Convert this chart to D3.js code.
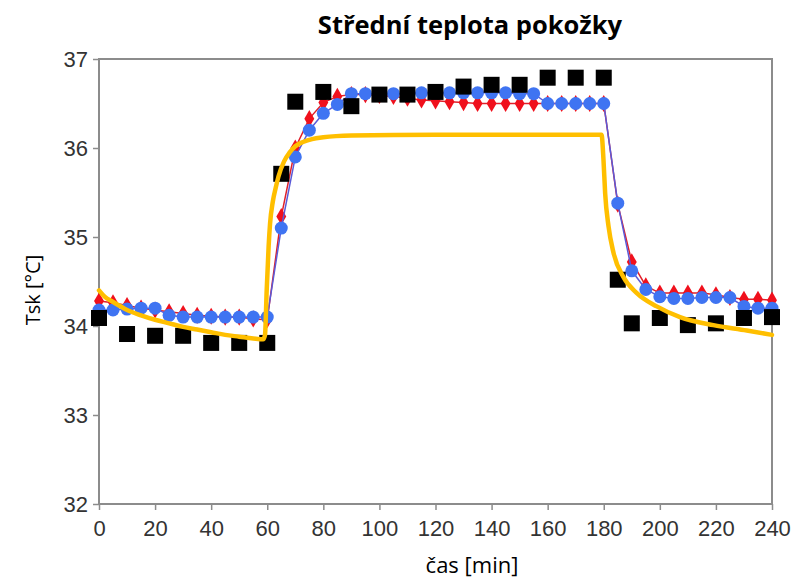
<!DOCTYPE html>
<html>
<head>
<meta charset="utf-8">
<script src="https://cdn.jsdelivr.net/npm/d3@7"></script>
<style>
  html, body { margin: 0; padding: 0; background: #fff; }
  svg { display: block; }
</style>
</head>
<body>
<svg id="chart" width="796" height="582"></svg>
<script>
// Mean skin temperature: measured points (black), two model series (red, blue), and a smooth model curve (yellow)
const xTicks = [0, 20, 40, 60, 80, 100, 120, 140, 160, 180, 200, 220, 240];
const yTicks = [32, 33, 34, 35, 36, 37];

// measured values [min, °C]
const measured = [
  [0, 34.09], [10, 33.91], [20, 33.89], [30, 33.89], [40, 33.81], [50, 33.81], [60, 33.81],
  [65, 35.71], [70, 36.52], [80, 36.63], [90, 36.47], [100, 36.6], [110, 36.6], [120, 36.63],
  [130, 36.69], [140, 36.71], [150, 36.71], [160, 36.79], [170, 36.79], [180, 36.79],
  [185, 34.52], [190, 34.03], [200, 34.09], [210, 34.01], [220, 34.03], [230, 34.09], [240, 34.1]
];

const modelTime = [0, 5, 10, 15, 20, 25, 30, 35, 40, 45, 50, 55, 60, 65, 70, 75, 80, 85, 90, 95,
  100, 105, 110, 115, 120, 125, 130, 135, 140, 145, 150, 155, 160, 165, 170, 175, 180, 185,
  190, 195, 200, 205, 210, 215, 220, 225, 230, 235, 240];

const modelRed = [34.28, 34.26, 34.23, 34.2, 34.18, 34.16, 34.14, 34.12, 34.11, 34.1, 34.1, 34.08, 34.07,
  35.23, 36.0, 36.33, 36.51, 36.58, 36.6, 36.6, 36.59, 36.58, 36.56, 36.54, 36.53, 36.52, 36.51,
  36.5, 36.5, 36.5, 36.5, 36.5, 36.5, 36.5, 36.5, 36.5, 36.5, 35.37, 34.72, 34.45, 34.37, 34.37,
  34.37, 34.37, 34.35, 34.32, 34.3, 34.3, 34.29];

const modelBlue = [34.18, 34.18, 34.19, 34.2, 34.2, 34.12, 34.1, 34.1, 34.1, 34.1, 34.1, 34.1, 34.1,
  35.1, 35.9, 36.2, 36.39, 36.49, 36.61, 36.61, 36.61, 36.61, 36.61, 36.62, 36.62, 36.62, 36.62,
  36.62, 36.62, 36.62, 36.61, 36.61, 36.5, 36.5, 36.5, 36.5, 36.5, 35.38, 34.62, 34.41, 34.33,
  34.31, 34.31, 34.32, 34.32, 34.32, 34.22, 34.2, 34.2];

// smooth model curve [min, °C]
const curve = [
  [0, 34.4], [2, 34.33], [5, 34.27], [10, 34.18], [15, 34.12], [20, 34.07], [25, 34.03], [30, 33.99],
  [35, 33.96], [40, 33.93], [45, 33.9], [50, 33.88], [55, 33.86], [58.5, 33.85], [59.2, 33.9],
  [59.8, 34.4], [60.5, 34.9], [61, 35.15], [62, 35.4], [63, 35.55], [64, 35.68], [66, 35.85],
  [68, 35.95], [70, 36.02], [73, 36.07], [76, 36.1], [80, 36.12], [90, 36.14], [120, 36.15],
  [179.2, 36.15], [179.9, 35.87], [180.5, 35.49], [181.7, 35.12], [183.5, 34.82], [187, 34.55],
  [191.8, 34.37], [198.9, 34.22], [207.2, 34.1], [219.1, 34.01], [231, 33.95], [240, 33.9]
];

const svg = d3.select("#chart");
const plot = { left: 99, right: 772, top: 59, bottom: 504 };

const x = d3.scaleLinear().domain([0, 240]).range([plot.left, plot.right]);
const y = d3.scaleLinear().domain([32, 37]).range([plot.bottom, plot.top]);

const frameColor = "#8c8c8c";
const tickFont = "'Liberation Sans', Arial, sans-serif";
const labelFont = "'Open Sans', 'Noto Sans', sans-serif";

// clip marks to a slightly enlarged plot area so markers on the edges stay whole
svg.append("defs").append("clipPath").attr("id", "plotClip")
  .append("rect")
  .attr("x", plot.left - 12).attr("y", plot.top)
  .attr("width", plot.right - plot.left + 24).attr("height", plot.bottom - plot.top);

// axes
const xAxis = svg.append("g")
  .attr("transform", `translate(0,${plot.bottom})`)
  .call(d3.axisBottom(x).tickValues(xTicks).tickSize(6).tickPadding(10));
const yAxis = svg.append("g")
  .attr("transform", `translate(${plot.left},0)`)
  .call(d3.axisLeft(y).tickValues(yTicks).tickSize(6).tickPadding(5).tickFormat(d3.format("d")));

[xAxis, yAxis].forEach(g => {
  g.select(".domain").remove();
  g.selectAll(".tick line").attr("stroke", frameColor).attr("stroke-width", 1.5);
  g.selectAll(".tick text")
    .attr("fill", "#333")
    .style("font-family", tickFont)
    .style("font-size", "22px");
});

// plot frame
svg.append("rect")
  .attr("x", plot.left).attr("y", plot.top)
  .attr("width", plot.right - plot.left).attr("height", plot.bottom - plot.top)
  .attr("fill", "none").attr("stroke", frameColor).attr("stroke-width", 2);

const marks = svg.append("g").attr("clip-path", "url(#plotClip)");

const line = d3.line().x(d => x(d[0])).y(d => y(d[1]));
const redPts = modelTime.map((t, i) => [t, modelRed[i]]);
const bluePts = modelTime.map((t, i) => [t, modelBlue[i]]);

// red series
marks.append("path").datum(redPts).attr("d", line)
  .attr("fill", "none").attr("stroke", "#e0202a").attr("stroke-width", 1.5);
marks.append("g").selectAll("path").data(redPts).join("path")
  .attr("d", d3.symbol(d3.symbolDiamond, 85))
  .attr("transform", d => `translate(${x(d[0])},${y(d[1])})`)
  .attr("fill", "#f0101c");

// blue series
marks.append("path").datum(bluePts).attr("d", line)
  .attr("fill", "none").attr("stroke", "#5a5ad8").attr("stroke-width", 1.5);
marks.append("g").selectAll("circle").data(bluePts).join("circle")
  .attr("cx", d => x(d[0])).attr("cy", d => y(d[1])).attr("r", 6.5)
  .attr("fill", "#3f74f2");

// measured squares
const sq = 16;
marks.append("g").selectAll("rect").data(measured).join("rect")
  .attr("x", d => x(d[0]) - sq / 2).attr("y", d => y(d[1]) - sq / 2)
  .attr("width", sq).attr("height", sq)
  .attr("fill", "#000");

// smooth curve on top
marks.append("path").datum(curve)
  .attr("d", d3.line().x(d => x(d[0])).y(d => y(d[1])).curve(d3.curveMonotoneX))
  .attr("fill", "none").attr("stroke", "#ffbf00").attr("stroke-width", 4.5)
  .attr("stroke-linejoin", "round").attr("stroke-linecap", "round");

// titles
svg.append("text")
  .attr("x", 470).attr("y", 34)
  .attr("text-anchor", "middle")
  .style("font-family", labelFont)
  .style("font-weight", "bold")
  .style("font-size", "25.5px")
  .attr("fill", "#000")
  .text("Střední teplota pokožky");

svg.append("text")
  .attr("x", 472).attr("y", 573)
  .attr("text-anchor", "middle")
  .style("font-family", labelFont)
  .style("font-size", "22px")
  .attr("fill", "#000")
  .text("čas [min]");

svg.append("text")
  .attr("transform", `translate(40,290) rotate(-90)`)
  .attr("text-anchor", "middle")
  .style("font-family", labelFont)
  .style("font-size", "20px")
  .attr("fill", "#000")
  .text("Tsk [°C]");
</script>
</body>
</html>
